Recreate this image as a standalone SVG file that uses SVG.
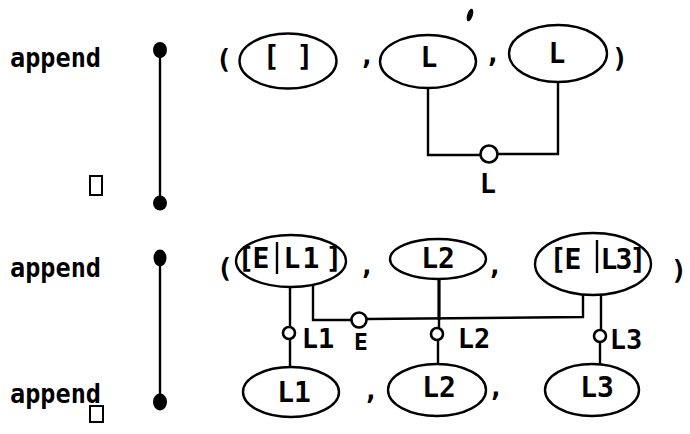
<svg xmlns="http://www.w3.org/2000/svg" width="690" height="434" viewBox="0 0 690 434">
<style>
  .t { font-family: "DejaVu Sans Mono", "Liberation Mono", monospace; font-size: 27px; font-weight: bold; fill: #000; }
  .k { font-size: 28px; }
  .m { text-anchor: middle; }
  .node { fill: #fff; stroke: #000; stroke-width: 2.4; }
  .wire { fill: none; stroke: #000; stroke-width: 2.4; }
  .port { fill: #fff; stroke: #000; stroke-width: 2.6; }
  .dot { fill: #000; }
  .box { fill: #fff; stroke: #000; stroke-width: 2; }
  .bar { stroke: #000; stroke-width: 2.4; }
</style>
<rect width="690" height="434" fill="#fff"/>

<!-- clause 1 -->
<g id="head1">
  <text class="t" x="10" y="67" textLength="91" lengthAdjust="spacingAndGlyphs">append</text>
</g>
<g id="rule1">
  <line class="wire" x1="160" y1="50" x2="160" y2="203"/>
  <ellipse class="dot" cx="160" cy="50" rx="7" ry="8"/>
  <ellipse class="dot" cx="160" cy="203" rx="7" ry="7.5"/>
</g>
<g id="body1">
  <rect class="box" x="90" y="176" width="12" height="19"/>
</g>
<g id="punct1">
  <text class="t m" x="224" y="68">(</text>
  <text class="t m" x="367" y="64">,</text>
  <text class="t m" x="493" y="62">,</text>
  <text class="t m" x="620" y="67">)</text>
  <ellipse class="dot" cx="470" cy="15" rx="2.8" ry="6.5" transform="rotate(18 470 15)"/>
</g>

<g id="connectors">
  <!-- clause 1 -->
  <path class="wire" d="M428,88 V155 H480"/>
  <path class="wire" d="M498,154 H558 V82"/>
  <!-- clause 2 -->
  <path class="wire" d="M290,287 V327"/>
  <path class="wire" d="M290,339 V367"/>
  <path class="wire" d="M313,285 V320 H351"/>
  <path class="wire" d="M367,319 L583,317 V295"/>
  <path class="wire" d="M439,278 V320" style="stroke-width:3.2"/>
  <path class="wire" d="M439,320 V328"/>
  <path class="wire" d="M438,340 V364"/>
  <path class="wire" d="M601,295 V330"/>
  <path class="wire" d="M600,342 V364"/>
</g>

<g id="arg-nil">
  <ellipse class="node" cx="288" cy="61" rx="48.5" ry="27.5"/>
  <text class="t k m" x="288" y="66">[ ]</text>
</g>
<g id="arg-L-a">
  <ellipse class="node" cx="428" cy="61.5" rx="48" ry="26.5"/>
  <text class="t k m" x="429" y="67">L</text>
</g>
<g id="arg-L-b">
  <ellipse class="node" cx="558" cy="53.5" rx="49" ry="28.5"/>
  <text class="t k m" x="557" y="63">L</text>
</g>
<g id="var-L">
  <circle class="port" cx="489" cy="154" r="8.5"/>
  <text class="t m" x="488" y="193">L</text>
</g>

<!-- clause 2 -->
<g id="head2">
  <text class="t" x="10" y="277" textLength="91" lengthAdjust="spacingAndGlyphs">append</text>
</g>
<g id="rule2">
  <line class="wire" x1="160" y1="258" x2="160" y2="402"/>
  <ellipse class="dot" cx="160" cy="258" rx="6.5" ry="8.5"/>
  <ellipse class="dot" cx="160" cy="402" rx="7" ry="8.5"/>
</g>
<g id="body2">
  <text class="t" x="10" y="403" textLength="91" lengthAdjust="spacingAndGlyphs">append</text>
  <rect class="box" x="90" y="406" width="13" height="16"/>
</g>
<g id="punct2">
  <text class="t m" x="225" y="277">(</text>
  <text class="t m" x="367" y="274">,</text>
  <text class="t m" x="495" y="274">,</text>
  <text class="t m" x="679" y="279">)</text>
  <text class="t m" x="371" y="399">,</text>
  <text class="t m" x="496" y="396">,</text>
</g>

<g id="arg-EL1">
  <ellipse class="node" cx="291" cy="261" rx="55" ry="26"/>
  <text class="t k m" x="246 261 292 311 334" y="268">[EL1]</text>
  <line class="bar" x1="277" y1="242" x2="277" y2="274"/>
</g>
<g id="arg-L2-top">
  <ellipse class="node" cx="438" cy="259" rx="48" ry="20"/>
  <text class="t k m" x="438" y="268">L2</text>
</g>
<g id="arg-EL3">
  <ellipse class="node" cx="593" cy="264" rx="58" ry="31"/>
  <text class="t k m" x="558 573 609 624 638" y="269">[EL3]</text>
  <line class="bar" x1="597" y1="240" x2="597" y2="273"/>
</g>
<g id="var-L1">
  <circle class="port" cx="289" cy="333" r="6"/>
  <text class="t m" x="318" y="348">L1</text>
</g>
<g id="var-E">
  <circle class="port" cx="359" cy="320" r="7.5"/>
  <text class="t m" x="361" y="350" style="font-size:23px">E</text>
</g>
<g id="var-L2">
  <circle class="port" cx="437" cy="334" r="6"/>
  <text class="t m" x="474" y="348">L2</text>
</g>
<g id="var-L3">
  <circle class="port" cx="600" cy="336" r="6"/>
  <text class="t m" x="626" y="349">L3</text>
</g>
<g id="arg-L1">
  <ellipse class="node" cx="291" cy="392" rx="48" ry="25"/>
  <text class="t k m" x="294" y="402">L1</text>
</g>
<g id="arg-L2">
  <ellipse class="node" cx="437" cy="390" rx="49" ry="26"/>
  <text class="t k m" x="439" y="397">L2</text>
</g>
<g id="arg-L3">
  <ellipse class="node" cx="592" cy="390" rx="47" ry="26"/>
  <text class="t k m" x="597" y="397">L3</text>
</g>
</svg>
